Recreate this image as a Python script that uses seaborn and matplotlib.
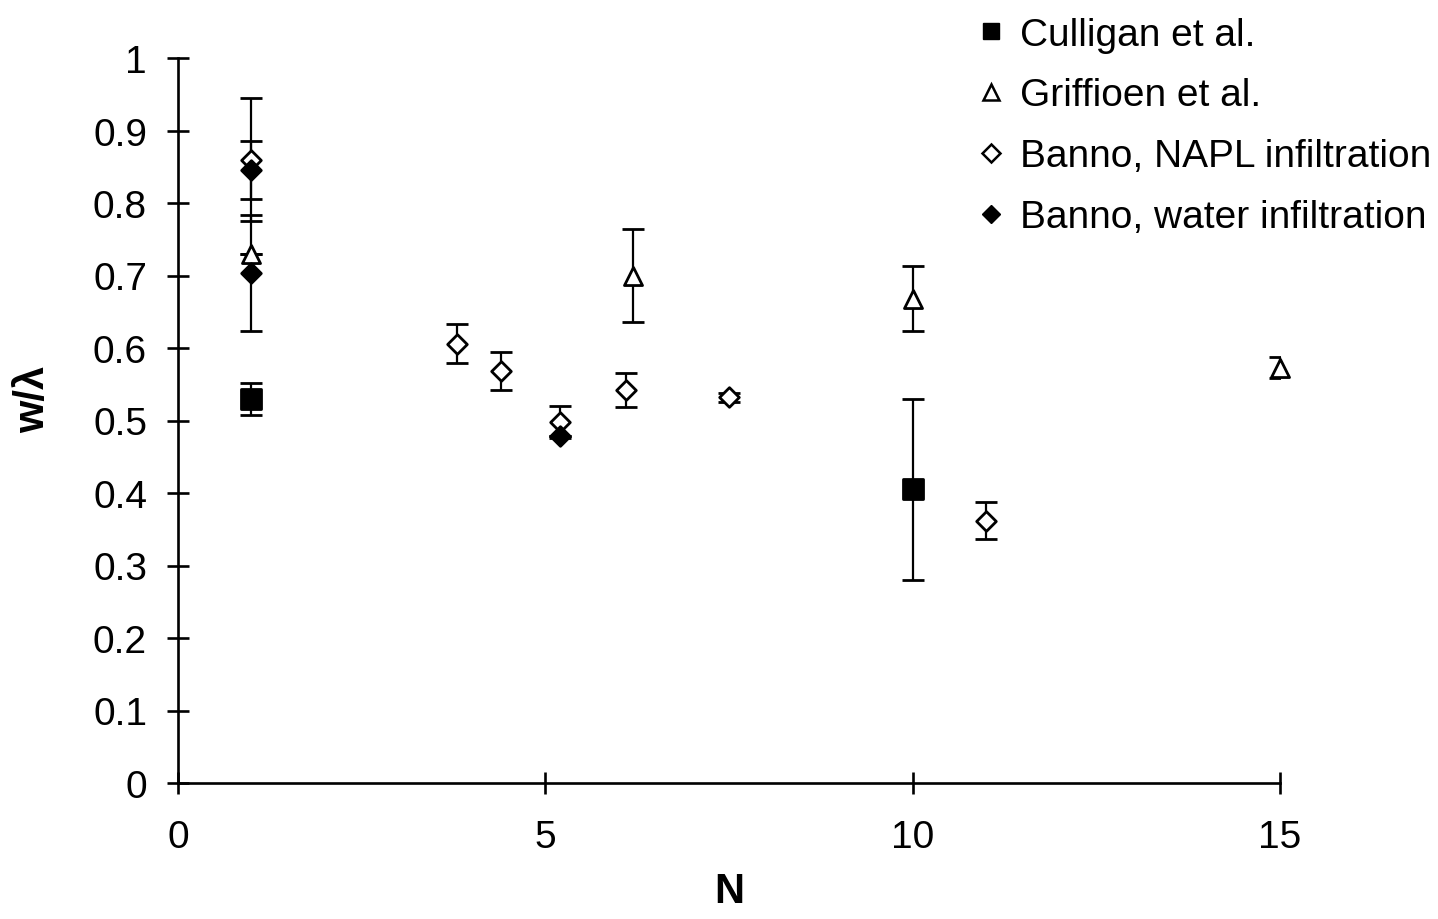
import matplotlib
matplotlib.use("Agg")
import matplotlib.pyplot as plt
from matplotlib.lines import Line2D
import seaborn as sns
import pandas as pd

# Data
culligan_N = [1, 10]
culligan_w = [0.530, 0.405]
culligan_err = [0.022, 0.125]

griffioen_N = [1, 6.2, 10, 15]
griffioen_w = [0.730, 0.700, 0.668, 0.573]
griffioen_err = [0.0, 0.064, 0.045, 0.015]

napl_N = [1, 3.8, 4.4, 5.2, 6.1, 7.5, 11]
napl_w = [0.860, 0.606, 0.568, 0.498, 0.542, 0.532, 0.362]
napl_err = [0.085, 0.027, 0.026, 0.022, 0.024, 0.006, 0.025]

water_N = [1, 1, 5.2]
water_w = [0.845, 0.703, 0.479]
water_err = [0.040, 0.080, 0.0]

labels = ["Culligan et al.", "Griffioen et al.", "Banno, NAPL infiltration", "Banno, water infiltration"]
x_ticks = [0, 5, 10, 15]
y_ticks = [0, 0.1, 0.2, 0.3, 0.4, 0.5, 0.6, 0.7, 0.8, 0.9, 1]
y_ticklabels = ["0", "0.1", "0.2", "0.3", "0.4", "0.5", "0.6", "0.7", "0.8", "0.9", "1"]

sns.set_style("ticks")
plt.rcParams["font.family"] = ["Liberation Sans", "DejaVu Sans"]
for k in ["text.color", "axes.labelcolor", "xtick.color", "ytick.color", "axes.edgecolor"]:
    plt.rcParams[k] = "black"

fig = plt.figure(figsize=(14.38, 9.2), dpi=100)
ax = fig.add_axes([178/1438, 1-784/920, (1280-178)/1438, (784-59)/920])

series = [
    (culligan_N, culligan_w, culligan_err, "s", "black", 15),
    (griffioen_N, griffioen_w, griffioen_err, "^", "white", 13),
    (napl_N, napl_w, napl_err, "D", "white", 10),
    (water_N, water_w, water_err, "D", "black", 10),
]

for (N, w, e, m, fc, ms), lab in zip(series, labels):
    ax.errorbar(N, w, yerr=e, fmt="none", ecolor="black", elinewidth=1.6,
                capsize=8, capthick=2.0, zorder=2)
    df = pd.DataFrame({"N": N, "w": w})
    sns.scatterplot(data=df, x="N", y="w", ax=ax, marker=m, s=ms**2,
                    facecolor=fc, edgecolor="black", linewidth=2.0,
                    zorder=3, legend=False)

ax.set_xlim(0, 15)
ax.set_ylim(0, 1)
ax.set_xticks(x_ticks)
ax.set_yticks(y_ticks)
ax.set_yticklabels(y_ticklabels)
ax.tick_params(axis="both", direction="inout", length=16.5, width=1.9,
               labelsize=28, colors="black")
ax.tick_params(axis="y", pad=14)
ax.tick_params(axis="x", pad=18)
for s in ["top", "right"]:
    ax.spines[s].set_visible(False)
for s in ["left", "bottom"]:
    ax.spines[s].set_linewidth(1.9)
    ax.spines[s].set_color("black")

ax.set_xlabel("N", fontsize=30, fontweight="bold")
ax.xaxis.set_label_coords(0.5, (784-872)/725)
ax.set_ylabel("w/λ", fontsize=30, fontweight="bold")
ax.yaxis.set_label_coords((53-178)/1102, (784-399)/725)
ax.set_facecolor("white")

handles = [
    Line2D([], [], ls="none", marker="s", ms=12, mfc="black", mec="black"),
    Line2D([], [], ls="none", marker="^", ms=12, mfc="white", mec="black", mew=1.8),
    Line2D([], [], ls="none", marker="D", ms=9, mfc="white", mec="black", mew=1.8),
    Line2D([], [], ls="none", marker="D", ms=9, mfc="black", mec="black"),
]
fig.legend(handles, labels, loc="upper left", bbox_to_anchor=(970/1438, 1-2/920),
           frameon=False, fontsize=28, handlelength=0.3, handletextpad=0.58,
           labelspacing=0.64, borderaxespad=0, labelcolor="black")

for c in ax.collections:
    c.set_clip_on(False)

fig.savefig("out.png", dpi=100, facecolor="white")
